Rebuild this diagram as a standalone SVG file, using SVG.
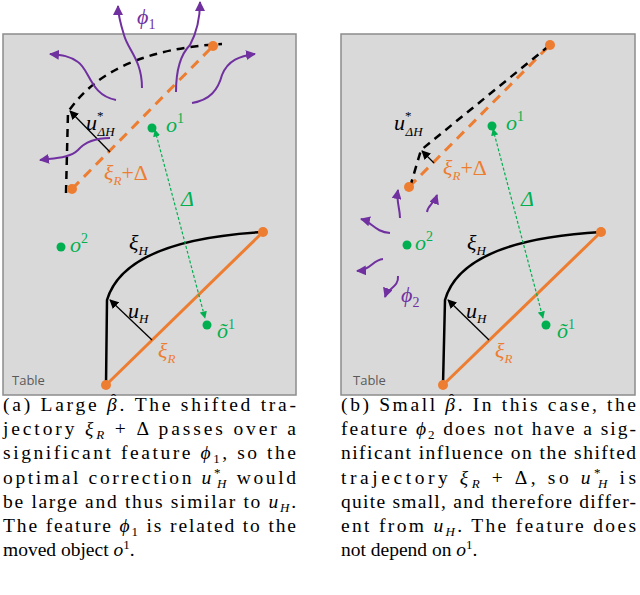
<svg xmlns="http://www.w3.org/2000/svg" width="640" height="595" viewBox="0 0 640 595">
<style>
.panel{fill:#d9d9d9;stroke:#8c8c8c;stroke-width:1.5}
.or{stroke:#ed7d31;stroke-width:3;fill:none}
.ord{stroke:#ed7d31;stroke-width:3;fill:none;stroke-dasharray:10,7}
.bk{stroke:#000;stroke-width:2.5;fill:none}
.bkd{stroke:#000;stroke-width:2.5;fill:none;stroke-dasharray:8,6}
.pu{stroke:#7030a0;stroke-width:2;fill:none}
.gd{stroke:#00b050;stroke-width:1.2;fill:none;stroke-dasharray:3,2}
.thin{stroke:#000;stroke-width:1.3;fill:none}
.m{font-family:"Liberation Serif",serif;font-style:italic;font-size:22px}
.g{fill:#00b050}.o{fill:#ed7d31}.p{fill:#7030a0}
.tab{font-family:"Open Sans",sans-serif;font-size:13px;fill:#595959}
.cap{font-family:"Liberation Serif",serif;font-size:19.5px;fill:#000}
</style>
<defs>
<marker id="ak" viewBox="0 0 10 10" refX="9" refY="5" markerWidth="7" markerHeight="7" orient="auto"><path d="M0,0 L10,5 L0,10 z" fill="#000"/></marker>
<marker id="ap" viewBox="0 0 10 10" refX="9" refY="5" markerWidth="5" markerHeight="5" orient="auto"><path d="M0,0 L10,5 L0,10 z" fill="#7030a0"/></marker>
<marker id="ag" viewBox="0 0 10 10" refX="9" refY="5" markerWidth="6" markerHeight="6" orient="auto-start-reverse"><path d="M0,0 L10,5 L0,10 z" fill="#00b050"/></marker>
</defs>
<g id="panelA">
<rect class="panel" x="3" y="34" width="293" height="361"/>
<text class="tab" x="12" y="385">Table</text>
<g id="connA">
<path class="ord" d="M72,189 L213,46"/>
<path class="bkd" d="M66,193 L68,112 Q110,50 222,44"/>
<path class="or" d="M106,385 L263,232"/>
<path class="bk" d="M106,385 L107,300 Q125,240 263,232"/>
<path class="thin" marker-end="url(#ak)" d="M152,340 L110,300"/>
<path class="thin" marker-end="url(#ak)" d="M110,152 L70,111"/>
<path class="gd" marker-start="url(#ag)" marker-end="url(#ag)" d="M155,130 L205,318"/>
<path class="pu" marker-end="url(#ap)" d="M116,100 C90,95 90,70 78,62 C70,56 62,55 50,54"/>
<path class="pu" marker-end="url(#ap)" d="M142,88 C142,60 128,50 124,35 C120,22 118,14 118,6"/>
<path class="pu" marker-end="url(#ap)" d="M176,92 C176,70 180,55 190,45 C198,30 200,15 200,2"/>
<path class="pu" marker-end="url(#ap)" d="M192,103 C210,100 218,90 222,75 C228,60 240,56 255,54"/>
<path class="pu" marker-end="url(#ap)" d="M110,138 C95,138 85,142 78,150 C70,158 55,158 40,160"/>
</g>
<circle cx="72" cy="189" r="5" fill="#ed7d31"/><circle cx="213" cy="46" r="5" fill="#ed7d31"/>
<circle cx="106" cy="385" r="5" fill="#ed7d31"/><circle cx="263" cy="232" r="5" fill="#ed7d31"/>
<circle cx="152" cy="128" r="4.5" fill="#00b050"/><circle cx="61" cy="247" r="4.5" fill="#00b050"/><circle cx="207" cy="325" r="4.5" fill="#00b050"/>
<text class="m p" x="137" y="24">ϕ<tspan font-size="14" dy="5" font-style="normal">1</tspan></text>
<text class="m" x="86" y="130">u<tspan font-size="13" dy="-10" font-style="normal">*</tspan><tspan font-size="13" dx="-6" dy="16">ΔH</tspan></text>
<text class="m o" x="104" y="180">ξ<tspan font-size="13" dy="5">R</tspan><tspan font-style="normal" dy="-5">+Δ</tspan></text>
<text class="m g" x="166" y="132">o<tspan font-size="14" dy="-9" font-style="normal">1</tspan></text>
<text class="m g" x="181" y="206" font-style="normal">Δ</text>
<text class="m g" x="70" y="252">o<tspan font-size="14" dy="-9" font-style="normal">2</tspan></text>
<text class="m" x="129" y="250" font-style="normal">ξ<tspan font-size="13" dy="5" font-style="italic">H</tspan></text>
<text class="m" x="128" y="318">u<tspan font-size="13" dy="5">H</tspan></text>
<text class="m o" x="158" y="358" font-style="normal">ξ<tspan font-size="13" dy="5" font-style="italic">R</tspan></text>
<text class="m g" x="217" y="338">õ<tspan font-size="14" dy="-9" font-style="normal">1</tspan></text>
</g>
<g id="panelB">
<rect class="panel" x="341" y="34" width="294" height="361"/>
<text class="tab" x="353" y="385">Table</text>
<g id="connB">
<path class="ord" d="M409,187 L550,45"/>
<path class="bkd" d="M410,187 L421,150 L550,45"/>
<path class="or" d="M443,385 L601,232"/>
<path class="bk" d="M443,385 L445,300 Q462,240 601,232"/>
<path class="thin" marker-end="url(#ak)" d="M489,340 L448,300"/>
<path class="thin" marker-end="url(#ak)" d="M434,163 L422,151"/>
<path class="gd" marker-start="url(#ag)" marker-end="url(#ag)" d="M493,129 L543,318"/>
<path class="pu" marker-end="url(#ap)" d="M400,218 C400,208 396,202 398,190"/>
<path class="pu" marker-end="url(#ap)" d="M427,212 C428,205 434,204 437,195"/>
<path class="pu" marker-end="url(#ap)" d="M390,233 C375,232 372,222 361,219"/>
<path class="pu" marker-end="url(#ap)" d="M383,259 C372,260 372,270 357,271"/>
<path class="pu" marker-end="url(#ap)" d="M398,276 C399,287 388,288 385,297"/>
</g>
<circle cx="409" cy="187" r="5" fill="#ed7d31"/><circle cx="550" cy="45" r="5" fill="#ed7d31"/>
<circle cx="443" cy="385" r="5" fill="#ed7d31"/><circle cx="601" cy="232" r="5" fill="#ed7d31"/>
<circle cx="492" cy="126" r="4.5" fill="#00b050"/><circle cx="407" cy="245" r="4.5" fill="#00b050"/><circle cx="546" cy="325" r="4.5" fill="#00b050"/>
<text class="m p" x="401" y="302">ϕ<tspan font-size="14" dy="5" font-style="normal">2</tspan></text>
<text class="m" x="394" y="130">u<tspan font-size="13" dy="-10" font-style="normal">*</tspan><tspan font-size="13" dx="-6" dy="16">ΔH</tspan></text>
<text class="m o" x="443" y="175">ξ<tspan font-size="13" dy="5">R</tspan><tspan font-style="normal" dy="-5">+Δ</tspan></text>
<text class="m g" x="506" y="130">o<tspan font-size="14" dy="-9" font-style="normal">1</tspan></text>
<text class="m g" x="521" y="206" font-style="normal">Δ</text>
<text class="m g" x="415" y="250">o<tspan font-size="14" dy="-9" font-style="normal">2</tspan></text>
<text class="m" x="467" y="250" font-style="normal">ξ<tspan font-size="13" dy="5" font-style="italic">H</tspan></text>
<text class="m" x="466" y="318">u<tspan font-size="13" dy="5">H</tspan></text>
<text class="m o" x="495" y="358" font-style="normal">ξ<tspan font-size="13" dy="5" font-style="italic">R</tspan></text>
<text class="m g" x="557" y="338">õ<tspan font-size="14" dy="-9" font-style="normal">1</tspan></text>
</g>
<g id="captionA" class="cap">
<text x="3" y="411" textLength="293" lengthAdjust="spacing">(a) Large <tspan font-style="italic">β</tspan>. The shifted tra-</text>
<text x="111" y="404" font-size="15">ˆ</text>
<text x="3" y="435" textLength="293" lengthAdjust="spacing">jectory <tspan font-style="italic">ξ</tspan><tspan font-size="13" font-style="italic" dy="4">R</tspan><tspan dy="-4"> + Δ passes over a</tspan></text>
<text x="3" y="459" textLength="293" lengthAdjust="spacing">significant feature <tspan font-style="italic">ϕ</tspan><tspan font-size="13" dy="4">1</tspan><tspan dy="-4">, so the</tspan></text>
<text x="3" y="484" textLength="293" lengthAdjust="spacing">optimal correction <tspan font-style="italic">u</tspan><tspan font-size="13" dy="-7">*</tspan><tspan font-size="13" font-style="italic" dx="-6" dy="11">H</tspan><tspan dy="-4"> would</tspan></text>
<text x="3" y="508" textLength="293" lengthAdjust="spacing">be large and thus similar to <tspan font-style="italic">u</tspan><tspan font-size="13" font-style="italic" dy="4">H</tspan><tspan dy="-4">.</tspan></text>
<text x="3" y="532" textLength="293" lengthAdjust="spacing">The feature <tspan font-style="italic">ϕ</tspan><tspan font-size="13" dy="4">1</tspan><tspan dy="-4"> is related to the</tspan></text>
<text x="3" y="556">moved object <tspan font-style="italic">o</tspan><tspan font-size="13" dy="-7">1</tspan><tspan dy="7">.</tspan></text>
</g>
<g id="captionB" class="cap">
<text x="341" y="411" textLength="295" lengthAdjust="spacing">(b) Small <tspan font-style="italic">β</tspan>. In this case, the</text>
<text x="449" y="404" font-size="15">ˆ</text>
<text x="341" y="435" textLength="295" lengthAdjust="spacing">feature <tspan font-style="italic">ϕ</tspan><tspan font-size="13" dy="4">2</tspan><tspan dy="-4"> does not have a sig-</tspan></text>
<text x="341" y="459" textLength="295" lengthAdjust="spacing">nificant influence on the shifted</text>
<text x="341" y="484" textLength="295" lengthAdjust="spacing">trajectory <tspan font-style="italic">ξ</tspan><tspan font-size="13" font-style="italic" dy="4">R</tspan><tspan dy="-4"> + Δ, so </tspan><tspan font-style="italic">u</tspan><tspan font-size="13" dy="-7">*</tspan><tspan font-size="13" font-style="italic" dx="-6" dy="11">H</tspan><tspan dy="-4"> is</tspan></text>
<text x="341" y="508" textLength="295" lengthAdjust="spacing">quite small, and therefore differ-</text>
<text x="341" y="532" textLength="295" lengthAdjust="spacing">ent from <tspan font-style="italic">u</tspan><tspan font-size="13" font-style="italic" dy="4">H</tspan><tspan dy="-4">. The feature does</tspan></text>
<text x="341" y="556">not depend on <tspan font-style="italic">o</tspan><tspan font-size="13" dy="-7">1</tspan><tspan dy="7">.</tspan></text>
</g>
</svg>
